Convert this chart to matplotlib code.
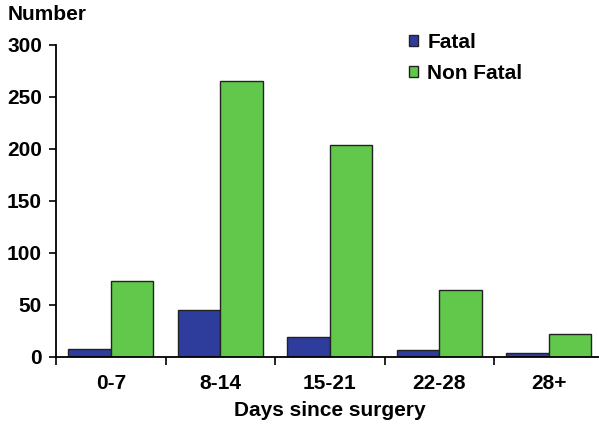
import matplotlib
matplotlib.use("Agg")
import matplotlib.pyplot as plt
import numpy as np

plt.rcParams['font.family'] = ['Liberation Sans', 'DejaVu Sans']
plt.rcParams['font.weight'] = 'bold'

# données
categories = ["0-7", "8-14", "15-21", "22-28", "28+"]
fatal = [8, 45, 19, 7, 4]
non_fatal = [73, 265, 204, 64, 22]

bleu = "#2E3C9C"
vert = "#62C84B"

fig = plt.figure(figsize=(5.99, 4.26), dpi=100)
ax = fig.add_axes([56 / 599, 69 / 426, 547.5 / 599, 312 / 426])

x = np.arange(len(categories))
w = 0.39
ax.bar(x - w / 2, fatal, w, color=bleu, edgecolor="#222222", linewidth=1, label="Fatal")
ax.bar(x + w / 2, non_fatal, w, color=vert, edgecolor="#222222", linewidth=1, label="Non Fatal")

ax.set_xlim(-0.5, len(categories) - 0.5)
ax.set_ylim(0, 300)
ax.set_yticks(range(0, 301, 50))
ax.set_xticks(x)
ax.set_xticklabels(categories, fontsize=15, fontweight="bold")
ax.tick_params(axis="x", length=0, pad=12)
ax.set_xticks(np.arange(-0.5, len(categories)), minor=True)
ax.tick_params(axis="x", which="minor", length=6, width=1.2, direction="out")
ax.tick_params(axis="y", length=5, width=1.2, labelsize=15, pad=5)
for lab in ax.get_yticklabels():
    lab.set_fontweight("bold")

for s in ["top", "right"]:
    ax.spines[s].set_visible(False)
ax.spines["left"].set_linewidth(1.3)
ax.spines["bottom"].set_linewidth(1.3)

ax.set_xlabel("Days since surgery", fontsize=15, fontweight="bold", labelpad=6)
fig.text(8 / 599, 1 - 15 / 426, "Number", fontsize=15, fontweight="bold", va="center", ha="left")

leg = ax.legend(loc="upper left", bbox_to_anchor=(0.61, 1.1), frameon=False, fontsize=15,
                handlelength=0.45, handleheight=0.45, handletextpad=0.45, labelspacing=0.6)
for t in leg.get_texts():
    t.set_fontweight("bold")

fig.savefig("out.png", dpi=100)
